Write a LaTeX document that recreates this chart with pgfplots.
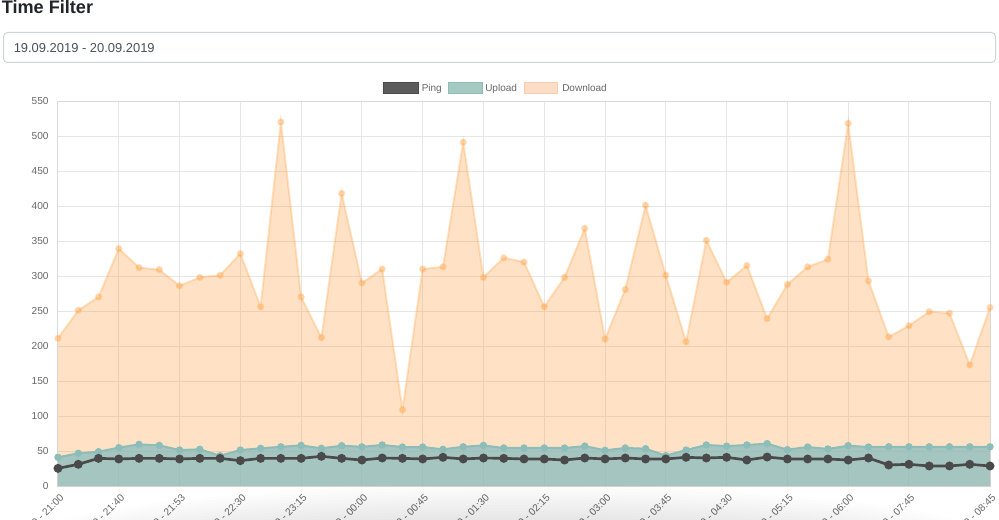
\documentclass[border=0pt]{standalone}
\usepackage{fontspec}
\setmainfont{Liberation Sans}
\usepackage{pgfplots}
\usepackage{pgfplotstable}
\pgfplotsset{compat=1.18}

\definecolor{tickgray}{HTML}{666666}
\definecolor{pingc}{HTML}{4A4A4A}
\definecolor{upc}{RGB}{135,187,190}
\definecolor{upline}{RGB}{140,189,184}
\definecolor{dlc}{RGB}{255,159,64}
\definecolor{gridc}{HTML}{E6E6E6}
\definecolor{boxc}{HTML}{CED4DA}
\definecolor{datec}{HTML}{495057}
\definecolor{titlec}{HTML}{212529}

% ping / upload / download per measurement
\pgfplotstableread{
i ping upload download
0 25.2 41.0 211
1 31.0 46.7 251
2 39.5 49.0 270
3 38.6 54.8 339
4 39.5 59.5 312
5 39.5 58.0 309
6 38.6 51.4 286
7 39.5 52.4 298
8 39.5 43.3 301
9 36.2 51.4 332
10 39.5 53.8 256
11 39.5 56.0 520
12 39.5 58.0 270
13 42.4 53.8 212
14 39.5 57.6 418
15 37.1 56.0 290
16 40.0 58.6 310
17 39.5 55.7 109
18 38.6 55.7 310
19 41.0 52.4 313
20 38.6 56.0 491
21 40.0 58.0 298
22 39.5 54.3 326
23 38.6 54.3 320
24 38.6 54.3 256
25 37.1 54.3 298
26 40.0 57.0 368
27 38.6 51.0 210
28 40.0 54.3 281
29 38.6 53.3 401
30 38.6 43.3 301
31 41.0 51.4 206
32 40.0 58.6 351
33 41.0 57.0 291
34 37.1 58.6 315
35 41.4 60.5 239
36 38.6 51.9 288
37 38.6 55.7 313
38 38.6 52.9 324
39 37.1 57.6 518
40 40.0 55.7 293
41 30.0 56.0 213
42 31.0 56.0 229
43 28.6 56.0 249
44 28.6 56.0 247
45 31.0 56.0 173
46 28.6 56.0 255
}\speed

\begin{document}
\begin{tikzpicture}
\begin{scope}[x=0.75pt,y=-0.75pt]
  \node[anchor=base west, inner sep=0pt, text=titlec,
        font=\fontsize{13.6}{15}\selectfont\bfseries] at (1.5,13.5) {Time Filter};
  \draw[boxc, line width=0.75pt, rounded corners=3pt] (3.5,32.5) rectangle (995.5,62.5);
  \node[anchor=base west, inner sep=0pt, text=datec,
        font=\fontsize{9.7}{12}\selectfont] at (13.5,52.5) {19.09.2019 - 20.09.2019};
  % legend
  \filldraw[fill=pingc!90!white, draw=pingc, line width=0.75pt] (383.5,82.5) rectangle (418.5,94);
  \node[anchor=base west, inner sep=0pt, text=tickgray, font=\fontsize{7.5}{9}\selectfont] at (421.5,92) {Ping};
  \filldraw[fill={rgb,255:red,165;green,200;blue,194}, draw={rgb,255:red,140;green,190;blue,183}, line width=0.75pt] (448,82.5) rectangle (482,94);
  \node[anchor=base west, inner sep=0pt, text=tickgray, font=\fontsize{7.5}{9}\selectfont] at (485,92) {Upload};
  \filldraw[fill={rgb,255:red,253;green,221;blue,199}, draw={rgb,255:red,251;green,205;blue,170}, line width=0.75pt] (524,82.5) rectangle (557.5,94);
  \node[anchor=base west, inner sep=0pt, text=tickgray, font=\fontsize{7.5}{9}\selectfont] at (562,92) {Download};
\end{scope}

\begin{axis}[
    at={(43.5pt,-364.5pt)}, anchor=south west,
    width=699pt, height=288.75pt, scale only axis,
    xmin=0, xmax=46, ymin=0, ymax=550,
    clip=false,
    axis line style={draw=black!15, line width=0.75pt},
    major tick length=0pt,
    grid=major,
    major grid style={draw=gridc, line width=0.75pt},
    ytick={0,50,...,550},
    xtick={0,3,6,9,12,15,18,21,24,27,30,33,36,39,42,46},
    xticklabels={19.09 - 21:00, 19.09 - 21:40, 19.09 - 21:53, 19.09 - 22:30, 19.09 - 23:15,
      20.09 - 00:00, 20.09 - 00:45, 20.09 - 01:30, 20.09 - 02:15, 20.09 - 03:00,
      20.09 - 03:45, 20.09 - 04:30, 20.09 - 05:15, 20.09 - 06:00, 20.09 - 07:45, 20.09 - 08:45},
    /pgf/number format/assume math mode=true,
    yticklabel style={font=\fontsize{7.6}{9}\selectfont, text=tickgray, xshift=-3.5pt},
    xticklabel style={font=\fontsize{7.6}{9}\selectfont, text=tickgray,
      xshift=3pt, yshift=-7.5pt, rotate=45, anchor=east, inner sep=0pt},
  ]
  \addplot[draw=none, fill=dlc, fill opacity=0.3] table[x=i, y=download] {\speed} \closedcycle;
  \addplot[dlc, draw opacity=0.3, line width=1.5pt, mark=*, mark size=2pt,
    mark options={fill=dlc, draw=dlc, fill opacity=0.3, draw opacity=0.3}] table[x=i, y=download] {\speed};
  \addplot[draw=none, fill=upc, fill opacity=0.75] table[x=i, y=upload] {\speed} \closedcycle;
  \addplot[upline, line width=1.5pt, mark=*, mark size=2pt, mark options={fill=upline}] table[x=i, y=upload] {\speed};
  \addplot[pingc, line width=2pt, mark=*, mark size=2.3pt, mark options={fill=pingc}] table[x=i, y=ping] {\speed};
\end{axis}

% soft shadow of an element below the chart
\begin{scope}[x=0.75pt,y=-0.75pt]
  \foreach \k in {1,...,14}
    \fill[black, opacity=0.009] (510,548) ellipse [x radius=330+12*\k, y radius=22+3*\k];
\end{scope}

\pgfresetboundingbox
\path[use as bounding box] (0pt,0pt) rectangle (749.25pt,-390pt);
\end{tikzpicture}
\end{document}
